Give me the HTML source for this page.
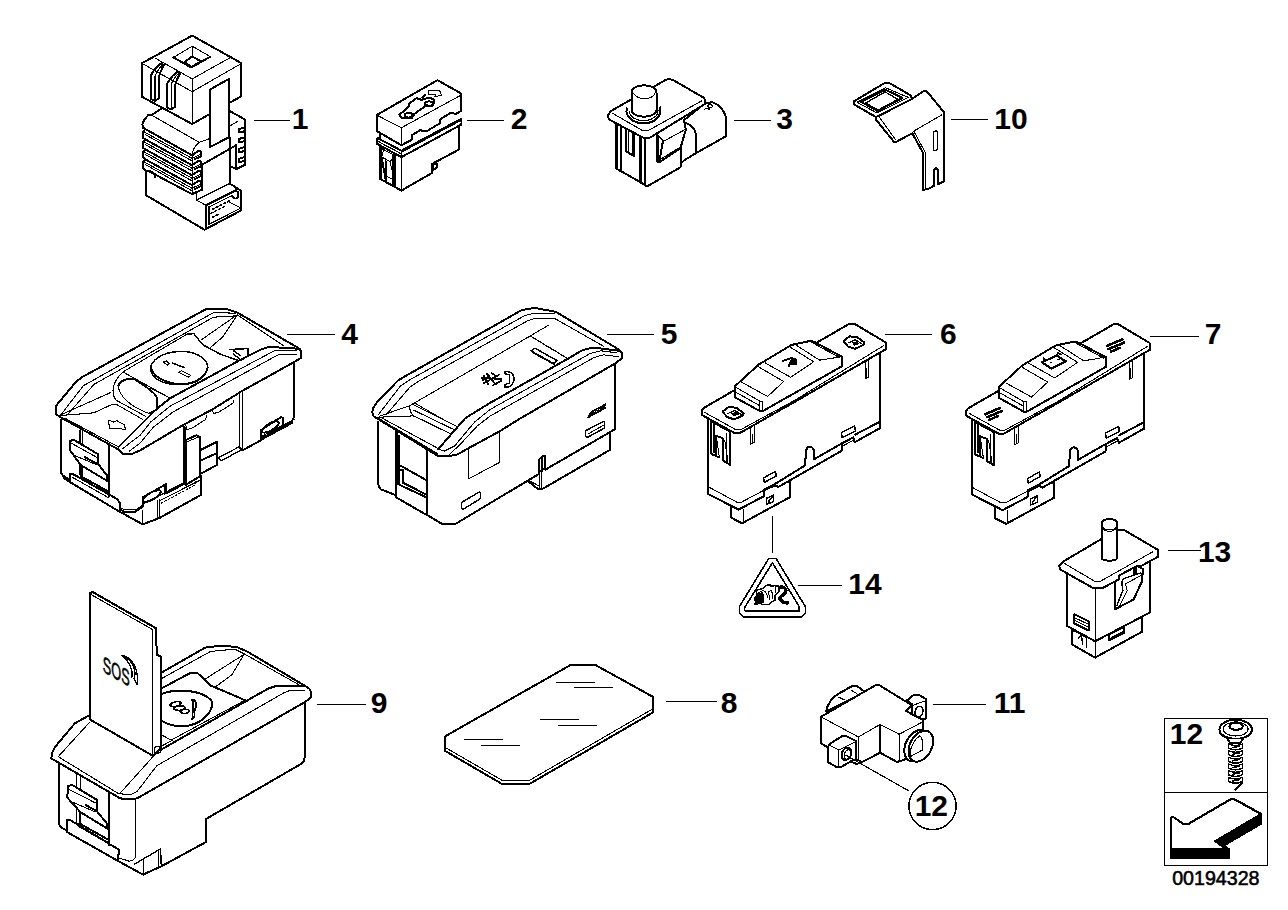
<!DOCTYPE html>
<html><head><meta charset="utf-8"><title>00194328</title>
<style>
html,body{margin:0;padding:0;background:#fff;}
body{width:1288px;height:910px;overflow:hidden;font-family:"Liberation Sans",sans-serif;}
svg{display:block;}
svg *{vector-effect:non-scaling-stroke;shape-rendering:crispEdges;}
.k{fill:none;stroke:#000;stroke-width:2;stroke-linejoin:round;stroke-linecap:round;}
.kf{fill:#fff;stroke:#000;stroke-width:2;stroke-linejoin:round;stroke-linecap:round;}
.m{fill:none;stroke:#000;stroke-width:1.45;stroke-linejoin:round;stroke-linecap:round;}
.mf{fill:#fff;stroke:#000;stroke-width:1.45;stroke-linejoin:round;stroke-linecap:round;}
.n{fill:none;stroke:#000;stroke-width:1.05;stroke-linejoin:round;stroke-linecap:round;}
.nf{fill:#fff;stroke:#000;stroke-width:1.05;stroke-linejoin:round;stroke-linecap:round;}
.b{fill:#000;stroke:none;}
.w{fill:#fff;stroke:none;}
.ld{fill:none;stroke:#000;stroke-width:1.15;}
text{font-family:"Liberation Sans",sans-serif;fill:#000;}
.num{font-weight:bold;font-size:27px;}
</style></head><body>
<svg width="1288" height="910" viewBox="0 0 1288 910">
<rect x="0" y="0" width="1288" height="910" fill="#fff"/>
<!-- 00_labels.svg -->
<g class="ld">
<path d="M254,120.5H290"/>
<path d="M467,120.5H504"/>
<path d="M734,120.5H771"/>
<path d="M951,119.5H988"/>
<path d="M286.5,334.5H335"/>
<path d="M606.5,334.5H654"/>
<path d="M885,334.5H932"/>
<path d="M1150,336.5H1198.5"/>
<path d="M1168,550.5H1201"/>
<path d="M798,585.5H842"/>
<path d="M772.5,516V553"/>
<path d="M316.5,704.5H365.5"/>
<path d="M665.5,701.5H716.5"/>
<path d="M933,704.5H985.5"/>
</g>
<circle cx="932.5" cy="806" r="23.6" class="k" style="stroke-width:1.5"/>
<rect x="1164.5" y="718.5" width="103" height="147" class="n" style="stroke-width:1.1"/>
<path d="M1164.5,792.5H1267.5" class="n" style="stroke-width:1.1"/>
<text class="num" style="font-size:30px" x="291.85" y="129">1</text>
<text class="num" style="font-size:30px" x="510.84" y="129">2</text>
<text class="num" style="font-size:30px" x="776.30" y="129">3</text>
<text class="num" style="font-size:30px" x="994.35" y="129">10</text>
<text class="num" style="font-size:30px" x="341.34" y="344">4</text>
<text class="num" style="font-size:30px" x="660.66" y="344">5</text>
<text class="num" style="font-size:30px" x="939.88" y="344">6</text>
<text class="num" style="font-size:30px" x="1204.69" y="344">7</text>
<text class="num" style="font-size:30px" x="1197.95" y="562">13</text>
<text class="num" style="font-size:30px" x="848.25" y="594">14</text>
<text class="num" style="font-size:30px" x="370.84" y="713">9</text>
<text class="num" style="font-size:30px" x="720.73" y="713">8</text>
<text class="num" style="font-size:30px" x="993.75" y="713">11</text>
<text class="num" style="font-size:30px" x="914.65" y="815.6">12</text>
<text class="num" style="font-size:30px" x="1169.85" y="743.8">12</text>
<text x="1172.13" y="885.05" style="font-size:19.65px;stroke:#000;stroke-width:0.55">00194328</text>

<!-- 01_part1.svg -->
<g transform="translate(120 100) scale(0.131988)">
<!-- body -->
<path class="w" d="M311,67 L247,110 L215,113 L195,136 L178,161 L170,186 L176,211 L190,222 L174,244 L174,285 L190,297 L174,320 L174,361 L190,373 L174,395 L174,436 L190,448 L174,471 L174,512 L200,543 L200,723 L640,983 L915,838 L915,688 L880,663 L830,633 L830,500 L880,525 L950,490 L950,150 L835,85 Z"/>
<path class="k" d="M311,67 L247,110 L215,113 L195,136 L178,161 L170,186 L176,211 L190,222 L174,244 L174,285 L190,297 L174,320 L174,361 L190,373 L174,395 L174,436 L190,448 L174,471 L174,512 L200,543 L200,723 L640,983 L915,838 L915,688 L880,663"/>
<!-- fin thick lines -->
<path class="k" d="M176,211 L546,419 M190,297.5 L546,494.5 M190,373 L546,570 M190,448.5 L546,645.5 M215,538 L546,713"/>
<path class="n" d="M180,240 L546,442 M192,262 L546,462 M180,316 L546,517.5 M192,338 L546,537.5 M180,391 L546,593 M192,413 L546,613 M180,467 L546,668.5 M192,489 L546,688.5"/>
<path class="n" d="M547,410 V713"/>
<!-- teeth right of fins -->
<path class="k" d="M546,419 L588,390 L611,390 L611,427 L566,449 M546,494.5 L588,465.5 L611,465.5 L611,502.5 L566,524.5 M546,570 L588,541 L611,541 L611,578 L566,600 M546,645.5 L588,616.5 L611,616.5 L611,653.5 L566,675.5"/>
<path class="n" d="M547,442 L611,412 M547,517 L611,487 M547,593 L611,563 M547,668 L611,638"/>
<!-- top face thin -->
<path class="n" d="M247,119 L601,321 C575,340 552,370 548,411 M601,321 L680,292"/>
<!-- right side -->
<path class="k" d="M625,678 L546,713 M625,488 V678 M625,488 L880,343 V518 M830,282 V633 M880,522 L838,503 M835,85 L950,150 V490 L880,525"/>
<path class="n" d="M835,195 L895,160"/>
<path class="k" d="M950,205 L903,220 V245 L940,238 M950,280 L903,295 V320 L940,313 M950,355 L903,370 V395 L940,388 M950,430 L903,445 V470 L940,463"/>
<!-- bottom left box -->
<path class="k" d="M200,543 L222,535 L265,561 V588"/>
<!-- connector -->
<path class="n" d="M580,692 V758 L830,633 M580,758 L650,798"/>
<path class="k" d="M650,798 L870,688 M830,633 L880,663 V690 M650,798 V978 M672,813 V943"/>
<path class="n" d="M672,813 L850,723 M672,943 L905,825 M825,773 L905,813"/>
<path class="k" d="M845,723 L870,748 L895,738 V693" style="stroke-width:1.6"/>
<path class="k" stroke-dasharray="2 2.2" style="stroke-width:1.6" d="M700,828 L830,763 M690,858 L800,803 M700,888 L745,866"/>
<!-- cap -->
<path class="kf" d="M547,-488 L165,-278 L165,-25 L547,182 L918,-28 L918,-280 Z"/>
<path class="n" d="M547,-160 V182 M170,-276 L547,-63 L912,-272 M265,-318 L547,-160 L830,-318"/>
<path class="n" d="M405,-323 L547,-408 L685,-328 M547,-408 V-330 M612,-293 L685,-328"/>
<path class="k" d="M405,-323 L540,-246 L685,-328 M547,-330 L488,-288 L543,-250 L612,-293 Z"/>
<!-- ribs -->
<path class="k" d="M297,-13 L262,7 L235,-8 V-188 C255,-225 285,-262 318,-280 M297,-13 V-183 C308,-215 322,-250 336,-268"/>
<path class="n" d="M265,7 V-183 C285,-225 305,-255 330,-272"/>
<path class="k" d="M419,52 L384,72 L357,57 V-123 C377,-160 407,-197 440,-215 M419,52 V-118 C430,-150 444,-185 458,-203"/>
<path class="n" d="M387,72 V-118 C407,-160 427,-190 452,-207"/>
<!-- label rect -->
<path class="kf" d="M680,-78 L825,-160 V282 L680,358 Z"/>

</g>
<!-- 02_part2.svg -->
<g transform="translate(365 72) scale(0.085737)">
<!-- lower body -->
<path class="w" d="M170,843 V1243 L425,1383 L780,1178 V1073 L1100,903 V600 L425,900 Z"/>
<path class="k" d="M170,843 V1243 L425,1383 L780,1178 V1073 L1100,903 V600"/>
<path class="k" d="M350,963 V1343 M790,1083 L835,1063 V1118 L790,1143 Z"/>
<path class="n" d="M425,993 V1383"/>
<!-- rocker on left face -->
<path class="k" d="M188,870 V1250 M240,1040 V1275 M195,1000 L240,1250 M195,880 L225,895 M330,960 V1330"/>
<path class="n" d="M195,990 L290,1045 L325,1015 M240,1210 L340,1262 M205,900 L340,970 M290,1045 L330,1200 M215,910 L195,990" />
<path class="n" stroke-dasharray="2 2" d="M318,985 V1200"/>
<!-- flange -->
<path class="kf" d="M135,783 L150,772 L425,918 L1125,545 V612 L425,993 L135,833 Z"/>
<path class="k" d="M150,808 L425,955 M425,935 L1110,570" style="stroke-width:1.2"/>
<path class="n" stroke-dasharray="1.2 1.6" d="M440,945 L1110,588" style="stroke-width:1.6;stroke:#fff"/>
<path class="n" d="M425,918 V993"/>
<!-- neck -->
<path class="k" d="M170,700 V778"/>
<!-- cap -->
<path class="kf" d="M845,95 L140,500 V690 L425,855 L545,790 V740 L640,680 L720,690 L870,600 L880,550 L1000,475 L1060,490 L1120,455 V250 Z"/>
<path class="n" d="M150,510 L425,650 L1105,278 M425,650 V855"/>
<!-- car icon -->
<path class="k" d="M400,500 L510,405 V375 L600,305 L660,325 L740,300 L800,315 L805,350 L790,395 L700,400 L575,490 L545,540 L435,540 Z M670,300 L700,265"/>
<ellipse class="kf" cx="510" cy="505" rx="45" ry="27"/>
<ellipse class="kf" cx="748" cy="368" rx="48" ry="25"/>
<path class="n" d="M740,215 L868,212 L895,272 L815,288 L822,262 L740,258 Z"/>

</g>
<!-- 03_part3.svg -->
<g transform="translate(600 72) scale(0.108696)">
<!-- right housing -->
<path class="kf" d="M975,282 L1040,280 Q1135,320 1160,420 V590 L880,748 L750,828 V460 Z"/>
<path class="k" d="M770,462 Q870,490 885,580 V745"/>
<path class="n" d="M985,310 l30,-15 l25,20 l-30,18 z M960,345 l25,-15 l20,18"/>
<!-- body -->
<path class="w" d="M144,440 V887 L191,911 L364,1010 L434,1052 L741,876 V832 L760,820 V430 Z"/>
<path class="k" d="M144,470 V887 L191,911 L364,1010 L434,1052 L741,876 V700"/>
<path class="n" d="M159,480 V893"/>
<path class="k" d="M191,490 V911 M364,597 V1010 M418,612 V1045"/>
<path class="n" d="M380,600 V1020"/>
<path class="k" d="M235,520 V728 L315,775 V565 M300,560 V765"/>
<path class="n" d="M265,535 V745"/>
<!-- rocker on right face -->
<path class="k" d="M520,570 V820 L545,832 L740,700 L790,530 L775,455 M520,570 L580,630 L545,832 M535,600 V810"/>
<path class="n" d="M595,632 L782,530 M560,800 L740,690"/>
<!-- plate -->
<path class="kf" d="M70,402 L100,360 L600,75 Q640,58 680,78 L960,240 L970,292 L450,610 L400,606 L85,438 Z"/>
<path class="n" d="M112,378 L385,535 Q420,548 460,530 L938,264"/>
<!-- button base ring -->
<path class="k" d="M248,335 C225,400 300,475 405,472 C500,470 570,410 552,325"/>
<path class="n" d="M268,360 C270,410 330,450 405,447 C480,445 535,405 535,350"/>
<!-- button -->
<path class="kf" d="M290,190 C290,100 520,100 520,190 V355 C500,430 310,430 290,355 Z"/>
<path class="n" d="M310,200 C350,260 470,260 505,200"/>

</g>
<!-- 04_part10.svg -->
<g transform="translate(845 75) scale(0.085737)">
<!-- vertical plate + tilted plate -->
<path class="kf" d="M780,280 L920,185 L950,185 L1155,435 V1239 L1084,1275 V1110 L1061,1080 L1038,1110 V1292 L970,1329 L910,1339 V910 L785,680 L600,778 L570,778 L360,520 L355,480 L770,262 Z"/>
<path class="n" d="M940,1329 V910 L805,660 M800,655 L1130,465 M375,455 L590,755 M425,472 L745,292"/>
<path class="kf" d="M1030,670 L1060,645 L1080,660 V860 L1060,882 L1030,880 Z" style="stroke-width:1.4"/>
<!-- ring -->
<path class="kf" d="M100,310 L460,95 L520,95 L770,240 L780,280 L360,490 L100,340 Z"/>
<path class="n" d="M140,318 L470,148 L740,262 L372,442 Z"/>
<path class="kf" d="M185,312 L470,170 L672,268 L380,420 Z"/>
<path class="k" d="M240,327 L468,197 L618,284 L388,408 Z" style="stroke-width:1.3"/>

</g>
<!-- 05_part4.svg -->
<g transform="translate(45 300) scale(0.131988)">
<!-- body fill -->
<path class="w" d="M125,880 V1315 L150,1355 L190,1380 L550,1595 L740,1700 L870,1650 L1185,1475 V1315 L1302,1250 V1190 L1472,1115 L1495,1140 L1647,1045 L1867,925 L1887,885 V440 Z"/>
<!-- left face -->
<path class="k" d="M125,905 V1315 L150,1355 L190,1380 L550,1595 L740,1700 L870,1650 L1185,1475 V1335"/>
<path class="k" d="M485,1105 V1485"/>
<path class="n" d="M265,985 V1325 M285,995 V1335"/>
<path class="kf" d="M190,1140 V1070 L215,1057 L405,1170 V1245 L470,1330 V1370 L270,1250 Z"/>
<path class="n" d="M200,1085 L392,1192 M225,1178 L395,1250"/>
<path class="k" d="M270,1250 V1335 M280,1340 L470,1445 M405,1245 L300,1190"/>
<path class="k" d="M190,1380 V1315 L205,1315 L550,1510 L565,1535 V1595 M135,1330 L185,1360"/>
<path class="n" d="M205,1342 L480,1497 M280,1350 C300,1345 330,1365 340,1385 M425,1440 C440,1435 455,1445 460,1455"/>
<!-- front face -->
<path class="k" d="M1050,955 V1395 M1887,470 V885 L1867,925 L1647,1045"/>
<path class="n" d="M1065,965 V1390"/>
<path class="kf" d="M1057,1065 L1147,1025 L1177,1040 V1335 L1067,1400 Z"/>
<path class="n" d="M1075,1075 L1170,1035 M1075,1075 V1390"/>
<path class="k" d="M1182,1135 L1302,1075 V1250 L1182,1315 M1182,1215 L1302,1160"/>
<path class="k" d="M1312,1195 L1472,1112 M1337,1217 L1477,1142 M1312,1195 L1337,1217" style="stroke-width:1.3"/>
<path class="n" d="M1472,700 V1115 M1495,700 V1140"/>
<path class="k" d="M1472,1115 L1495,1140 L1637,1062 V985 L1787,888 L1802,893 V938"/><path class="k" d="M1647,1030 L1887,905 M1637,1062 L1877,932" style="stroke-width:1.2"/>
<ellipse class="k" cx="1707" cy="962" rx="72" ry="26" transform="rotate(-30 1707 962)"/>
<path class="n" d="M1267,830 L1277,860 L1317,850 L1427,780 L1432,760 M1067,945 L1072,980 L1107,975 L1217,905 L1227,870"/>
<!-- front bottom -->
<path class="k" d="M565,1585 L600,1605 L680,1605 L740,1565 V1495 L900,1405 L920,1395 V1465 L1050,1395" />
<path class="n" d="M565,1565 Q585,1590 620,1590 H690 L740,1555 M740,1595 V1700 M850,1520 V1655 M870,1510 V1650 M905,1410 V1470"/>
<ellipse class="k" cx="810" cy="1485" rx="75" ry="26" transform="rotate(-30 810 1485)"/>
<path class="k" d="M745,1545 L1050,1385 M870,1520 L1177,1365" style="stroke-width:1.2"/>
<path class="n" d="M880,1540 L1140,1400 V1375" stroke-dasharray="2 2"/>
<!-- bezel -->
<path class="kf" d="M80,830 L85,800 L235,620 L280,585 L1222,68 L1377,68 L1457,95 L1922,365 L1937,385 V440 L1887,470 L1492,690 L1267,830 L1050,945 L720,1140 L660,1165 L590,1165 L560,1135 L120,890 L85,865 Z"/>
<path class="k" d="M1932,370 L1697,355 L1637,375 L1487,450 L947,745 L835,835 L560,1110"/>
<path class="n" d="M1907,380 L1737,385 L947,805 L800,925 L720,1025 L590,1125 M1907,410 L1767,415 L967,850 L820,965 L720,1085 L640,1145"/>
<path class="n" d="M120,870 L290,650 L1277,95 L1447,100 M170,870 L370,640 L1277,130 L1447,120 M1457,112 L1807,345 M1457,112 L1187,300 M1452,120 L1347,280 L1247,365"/>
<path class="m" d="M1077,258 L1127,255 L1197,340 L1327,410 L1470,460"/>
<path class="n" d="M1077,258 L590,545 L950,745 M120,870 L500,700 M120,875 L370,855 L510,790 L540,790 L740,905 M800,670 L950,745 M150,895 L560,1115"/>
<!-- oval button -->
<path class="n" d="M590,545 C520,610 490,700 540,760 L760,880 M555,650 C560,720 640,810 790,860"/>
<path class="k" d="M555,650 C570,610 620,590 680,600 C740,640 840,700 850,745 V830 L790,860"/>
<!-- round knob -->
<ellipse class="m" cx="1016" cy="515" rx="216" ry="125" transform="rotate(-3 1016 515)"/>
<path class="k" d="M805,520 C830,600 960,650 1080,635 C1160,625 1225,570 1232,510" />
<path class="n" d="M895,470 l25,-8 l22,18 l-12,14 z M1012,548 l22,-12 l70,35 l-18,14 z"/>
<path class="k" d="M968,478 L1055,512" style="stroke-width:1.5"/>
<!-- arrows -->
<path class="n" d="M480,910 L520,925 L545,915 L600,945 L610,980 L560,975 L490,975 Z"/>
<path class="m" d="M1402,375 L1537,368 V425 L1487,455 L1427,410 M1430,385 L1480,420"/>

</g>
<!-- 06_part5.svg -->
<g transform="translate(365 300) scale(0.131988)">
<!-- lower block -->
<path class="kf" d="M1227,1365 L1307,1430 L1347,1430 L1857,1135 V1000 L1322,1300 Z"/>
<path class="n" d="M1322,1315 V1430 M1335,1310 V1430 M1247,1372 L1318,1408"/>
<!-- body fill -->
<path class="w" d="M100,900 V1395 L120,1435 L225,1475 L235,1495 L470,1630 L590,1700 L680,1700 L1322,1315 V1205 L1347,1185 L1367,1185 V1285 L1892,980 V470 Z"/>
<path class="k" d="M100,925 V1395 Q105,1425 120,1435 L225,1475 M235,995 V1495 L470,1630 L490,1640 L590,1700 L680,1700 L1322,1315 V1205 L1347,1185 L1367,1185 V1285 L1892,980 V480"/>
<path class="n" d="M248,1000 V1390"/>
<path class="k" d="M470,1145 V1630 M1340,1195 V1300" />
<path class="k" d="M260,1250 L465,1365 M250,1395 L465,1495 M290,1385 L465,1475 M265,1285 H290 V1385 M260,1030 V1395"/>
<path class="n" d="M785,1135 V1355 L1020,1230 V1010"/>
<path class="k" d="M785,1135 V1355" style="stroke-width:1.2"/>
<path class="k" d="M730,1535 L865,1455 L875,1460 V1505 L745,1585 L730,1580 Z" style="stroke-width:1.5"/>
<path class="k" d="M1672,990 L1807,920 L1815,925 V970 L1687,1040 L1672,1035 Z" style="stroke-width:1.5"/>
<path class="n" d="M1690,1015 L1805,950"/>
<path class="k" d="M1690,890 l22,-40 M1712,878 l22,-40 M1734,866 l22,-40 M1756,854 l22,-40 M1778,842 l22,-40 M1800,830 l22,-40 M1690,890 L1822,818 M1712,850 L1822,790" style="stroke-width:1.5"/>
<!-- bezel -->
<path class="kf" d="M55,850 L60,820 L95,770 L250,610 L300,580 L1190,75 L1287,60 L1447,90 L1907,365 L1947,400 V440 L1897,480 L1157,909 L1020,995 L780,1125 L700,1170 L620,1185 L550,1180 L460,1125 L105,905 L65,880 Z"/>
<path class="k" d="M1932,385 L1727,360 L1647,380 L1537,445 L947,780 L760,895 L555,1130"/>
<path class="n" d="M1907,400 L1787,385 L1707,405 L947,830 L830,925 L680,1105 L600,1145 L555,1130 M1922,430 L1807,415 L1737,435 L947,880 L850,955 L720,1095 L640,1170"/>
<path class="n" d="M100,870 L270,650 L330,610 L1207,120 L1277,100 L1437,100 M160,870 L340,660 L400,620 L1227,160 L1287,140 L1437,140 L1807,350"/>
<path class="n" d="M375,780 L1247,275 L1392,190 M340,800 L375,780 L600,909 M340,800 Q335,850 370,880 M370,795 L700,960 M370,835 L680,985 M375,880 L650,1015 M100,888 L370,878 M110,880 L340,800 M130,895 L545,1120"/>
<path class="k" d="M1257,275 L1537,445" style="stroke-width:1.3" stroke-dasharray="1 1.2"/>
<path class="k" d="M110,905 L550,1170" style="stroke-width:2.2" stroke-dasharray="1 1"/>
<path class="m" d="M1257,385 L1287,365 L1457,460 L1427,480 Z"/>
<path class="m" d="M1270,395 L1440,490" style="stroke-width:2" stroke-dasharray="1 1"/>
<!-- symbol -->
<path class="k" stroke-dasharray="2 1" d="M885,590 L1035,600 M900,630 L1020,565 M925,560 L990,640 M890,610 L945,570 M970,645 L1035,612 M960,555 L1000,580 M900,575 L935,640" style="stroke-width:1.7"/>
<path class="m" d="M1058,545 C1110,535 1140,570 1125,620 C1115,650 1085,665 1058,660 L1060,640 L1095,630 L1095,565 L1060,560 Z"/>

</g>
<!-- 07_part6.svg -->
<g transform="translate(695 310) scale(0.131988)">
<defs>
<g id="sw67">
<!-- connector -->
<path class="kf" d="M275,1490 V1574 L357,1616 L720,1418 V1300 L600,1330 Z"/>
<path class="k" d="M365,1512 V1612" style="stroke-width:1.3"/>
<path class="m" d="M540,1427 L595,1402 V1452 L545,1472 Z M555,1455 L585,1415"/>
<!-- body -->
<path class="w" d="M95,800 V1392 L330,1512 L520,1412 V1362 L600,1322 L630,1342 L1110,1067 V1017 L1200,972 L1210,1002 L1403,894 V300 Z"/>
<path class="k" d="M95,822 V1392 L330,1512 L520,1412 V1362 L600,1322 L835,1177 L840,1067 Q845,1040 870,1035 Q895,1040 900,1062 V1132 L1110,1012 L1200,965 M600,1322 L630,1342 L1110,1067 V1017 M1200,972 L1210,1002 L1403,894 V320 M1214,944 L1403,845"/>
<path class="n" d="M105,1342 L320,1457 L350,1457 L520,1367 M535,1365 L600,1335 M1120,1030 L1195,990"/>
<path class="k" d="M520,1272 L610,1222 L615,1257 L525,1307 Z M1110,927 L1210,877 L1215,917 L1115,967 Z" style="stroke-width:1.4"/>
<path class="n" d="M420,882 V1017 L450,1002 V872 M435,940 V1005 M1289,385 V520 L1314,510 V380 M1300,440 V512"/>
<!-- left face switch -->
<path class="k" d="M125,832 V1092 L185,1117 M145,850 V1075 M130,847 L265,922 V1172 L215,1142 L210,972 L160,952 V1102"/>
<path class="n" d="M160,952 L185,1117 M225,985 L250,1150 M240,935 V1160"/>
<!-- plate -->
<path class="kf" d="M50,762 L70,740 L1169,105 L1209,105 L1444,245 L1449,295 L780,682 L340,932 L300,932 L55,797 Z"/>
<path class="n" d="M75,777 L310,907 L345,907 L760,682 L1429,270"/>
<!-- rocker -->
<path class="kf" d="M300,580 L480,415 L730,265 L870,235 L900,240 L1115,355 V425 L515,765 L490,765 L300,660 Z"/>
<path class="n" d="M1110,425 L520,765 M305,620 L490,725 M300,580 L490,690 L515,690 M490,690 V765 M515,690 V765"/>
<path class="n" d="M480,430 L672,542 L550,655 L355,548 M530,400 L725,510 L899,392 L719,280 M764,265 L944,380 L1044,365 L1110,350 M884,245 L1094,360"/>
</g>
<g id="lock67">
<path class="kf" d="M-71,-20 L-24,-55 L35,-49 L88,-8 L82,9 L17,39 L-36,21 Z" style="stroke-width:2"/>
<path class="k" d="M-30,-6 L20,-30 L70,2" style="stroke-width:1.3"/>
<path class="b" d="M-6,-8 L35,-20 L53,4 L11,15 Z"/>
</g>
</defs>
<use href="#sw67"/>
<use href="#lock67" transform="translate(280,790)"/>
<use href="#lock67" transform="translate(1195,255)"/>
<path class="k" d="M665,385 L735,362 M738,365 L710,428 M735,372 L768,375 L768,412 L728,408" style="stroke-width:2"/><path class="b" d="M735,375 L765,378 V410 L735,405 Z"/>

</g>
<!-- 08_part7.svg -->
<g transform="translate(959 310.6) scale(0.131988)">
<use href="#sw67"/>
<!-- battery icon on rocker -->
<path class="kf" d="M630,392 L738,340 L810,385 L702,440 Z" style="stroke-width:2.2"/>
<path class="k" d="M648,380 L642,360 M742,336 L748,320 L772,333" style="stroke-width:1.8"/>
<path class="b" d="M688,395 l12,-6 l10,7 l-12,6z M745,370 l12,-6 l10,7 l-12,6z"/>
<!-- texts -->
<path class="k" stroke-dasharray="2.4 1.2" d="M200,785 L310,738 M213,808 L323,762 M228,828 L300,797" style="stroke-width:2.6"/>
<path class="k" stroke-dasharray="2.4 1.2" d="M1120,268 L1245,215 M1133,292 L1250,243 M1150,312 L1225,280" style="stroke-width:2.6"/>

</g>
<!-- 09_part13.svg -->
<g transform="translate(1050 510) scale(0.108696)">
<!-- lower block -->
<path class="kf" d="M205,1103 V1238 L415,1358 L850,1118 V983 L415,1200 Z"/>
<path class="k" d="M260,1178 L290,1148 L335,1173 V1263 M290,1155 L300,1235" style="stroke-width:1.4"/>
<!-- body -->
<path class="kf" d="M160,590 V1068 L415,1208 L920,943 V470 Z"/>
<path class="n" d="M415,720 V1358"/>
<path class="k" d="M225,958 L355,1023 V1108 L225,1043 Z M545,1143 L685,1073 V1128 L545,1198 Z"/>
<path class="n" d="M235,995 L350,1050 M235,1020 L350,1075"/>
<path class="k" d="M565,1175 L675,1120" style="stroke-width:1.8" stroke-dasharray="1 1"/>
<!-- rocker on right face -->
<path class="k" d="M600,640 V913 L770,823 L850,648 L845,590 M630,605 L780,525 L800,515 L860,545 L855,590 M770,540 V590 M790,535 V580"/>
<path class="k" d="M660,660 L680,630 L830,580 M660,660 L670,740 L615,880" style="stroke-width:1.4"/>
<path class="n" d="M695,680 L710,745 L635,890 M695,680 L830,605"/>
<!-- plate -->
<path class="kf" d="M85,510 L120,475 L620,180 L675,180 L990,365 L995,430 L830,520 L800,515 L640,600 L630,640 L480,720 L400,720 L90,545 Z"/>
<path class="n" d="M130,490 L410,655 L465,655 L945,385"/>
<!-- pin -->
<path class="kf" d="M475,125 C475,70 620,70 620,125 V440 C610,475 485,475 475,440 Z"/>
<path class="n" d="M482,150 C500,195 595,195 613,150 M490,170 C510,205 585,205 605,170"/>

</g>
<!-- 10_part14.svg -->
<g transform="translate(725 545) scale(0.078003)">
<path class="kf" d="M560,175 L655,175 L1030,790 V870 L975,925 L240,925 L185,870 V790 Z" style="stroke-width:1.6"/>
<path class="k" d="M608,228 L952,790 V847 L265,847 L250,832 V805 Z" style="stroke-width:1.6"/>
<path class="b" d="M365,690 L400,640 L395,600 L430,615 L480,605 L500,640 L495,740 L455,745 L400,775 L360,760 L385,735 Z"/>
<path class="k" d="M400,600 L420,575 L480,560 L545,510 L575,510 L590,530 L640,520 L665,530 L690,525 V600 L640,650 V710 L600,730 L555,765 L480,765 L455,745" style="stroke-width:1.5"/>
<path class="n" d="M430,610 L490,585 L520,600 L550,670 M560,600 L600,580 L610,690 M560,600 L570,700 M650,540 V610"/>
<path d="M705,540 C765,525 800,575 765,620 L705,672 V700 L760,740 L815,743" fill="none" stroke="#000" stroke-width="3.4" stroke-linejoin="round"/>

</g>
<!-- 11_part9.svg -->
<g transform="translate(40 585) scale(0.151633)">
<!-- body -->
<path class="w" d="M125,1150 V1557 L135,1597 L175,1617 L180,1630 L515,1820 L680,1910 L800,1855 L1095,1695 V1543 L1725,1178 L1745,1148 V760 Z"/>
<path class="k" d="M125,1177 V1557 Q125,1590 140,1600 L175,1617 M455,1377 V1717 M175,1550 L180,1630 L515,1820 L520,1745 L460,1710 M175,1550 L195,1548 L455,1705"/>
<path class="k" d="M515,1820 L680,1910 L800,1855 L1095,1695 V1543 L1725,1178 Q1745,1165 1745,1140 V773"/>
<path class="n" d="M240,1247 V1577 M265,1260 V1577 M630,1415 V1790 Q625,1815 590,1822 L520,1800 M685,1810 V1905 M780,1745 V1850 M250,1590 L450,1705"/>
<path class="k" d="M625,1840 L795,1740 L800,1855" style="stroke-width:1.4"/>
<path class="kf" d="M180,1402 L185,1327 L210,1317 L375,1417 V1492 L445,1577 V1607 L265,1497 Z"/>
<path class="n" d="M190,1347 L365,1437 M215,1432 L365,1497"/>
<path class="k" d="M265,1497 V1577 M260,1572 L445,1677 M375,1492 L300,1450"/>
<!-- bezel -->
<path class="kf" d="M75,1142 L80,1107 L100,1067 L230,912 L330,857 L800,578 L1090,413 L1185,401 L1295,408 L1365,438 L1745,663 L1775,683 L1785,703 V743 L1745,773 L1286,1037 L650,1402 L620,1412 L550,1412 L520,1402 L115,1167 L80,1147 Z"/>
<path class="k" d="M1775,683 L1745,663 L1565,663 L1505,683 L1355,768 L800,1085"/>
<path class="n" d="M1355,758 L865,1023 M1745,698 L1655,693 L1605,713 L770,1192 L640,1362 L600,1382 L520,1377 L120,1132 L330,902 M745,1132 L525,1377"/>
<path class="n" d="M800,618 L1125,438 L1285,423 L1345,453 L1725,668 M1345,458 L1085,623 M1345,458 L1265,593 L1155,673 M800,988 L865,1023 M800,1063 L875,1023"/>
<path class="k" d="M800,683 L995,578 L1035,578 L1075,613 L1125,663 L1315,743 L1365,768"/>
<!-- ellipse button -->
<path class="k" d="M800,720 C900,680 1060,690 1130,760 C1150,820 1090,900 990,925 C920,940 850,925 800,895"/>
<path class="k" style="stroke-width:1.7" d="M855,795 C870,770 910,760 930,775 C925,800 885,810 855,795 Z M880,815 C900,795 940,790 955,805 C950,830 905,835 880,815 Z M925,835 C940,815 975,815 985,830 C975,850 940,855 925,835 Z"/>
<path class="k" style="stroke-width:1.7" d="M1000,760 C1030,740 1035,800 1020,830 M1005,835 C1030,840 1020,880 1000,885 M1010,770 L1005,880"/>
<!-- flap -->
<path class="kf" d="M330,55 L345,45 L765,285 L770,460 L795,470 V1075 L745,1127 L330,887 Z"/>
<path class="n" d="M340,65 L745,295 V1127"/>
<circle class="n" cx="775" cy="1087" r="22"/>
<!-- SOS -->
<g transform="translate(414,570) matrix(1,0.58,0,1,0,0) scale(0.56,1)"><text font-size="150" x="0" y="0" style="font-weight:normal;stroke:#000;stroke-width:0.5px">SOS</text></g>
<path class="m" d="M540,465 C610,470 655,570 640,655 M565,480 C610,500 635,560 622,615 M540,465 C590,500 615,570 605,610 M640,655 L620,615"/>

</g>
<!-- 12_part8.svg -->
<g transform="translate(420 640) scale(0.263975)">
<path class="kf" d="M95,365 L570,95 L665,95 L882,215 V275 L415,545 L310,545 L95,420 Z"/>
<path class="n" d="M97,408 L312,532 L414,532 L880,262"/>
<path class="n" style="stroke-width:1" d="M515,160 H662 M585,180 H730 M455,300 H600 M523,323 H668 M167,377 H313 M232,399 H378"/>

</g>
<!-- 13_part11.svg -->
<g transform="translate(810 675) scale(0.108696)">
<!-- top-left bump -->
<path class="kf" d="M150,335 L160,290 L200,220 L250,180 L390,100 L430,100 L490,145 L500,160 Z"/>
<path class="n" d="M265,205 L320,230 M380,142 L432,170"/>
<!-- right lug -->
<path class="kf" d="M895,230 L960,180 L1000,180 L1070,225 V400 L1040,410 L880,330 L940,285 Z"/>
<path class="k" d="M940,270 V350"/>
<path class="n" d="M905,240 L950,278 L1060,238"/>
<ellipse class="m" cx="1002" cy="340" rx="36" ry="54" transform="rotate(18 1002 340)"/>
<!-- main body -->
<path class="kf" d="M100,385 L610,90 L640,95 L940,280 L880,330 L1035,410 V520 L870,780 L800,800 L645,715 L480,800 L165,665 L100,630 Z"/>
<path class="n" d="M110,390 L445,570 L645,455 L820,545 L1030,435 M445,570 V780 M820,545 V800"/>
<path class="k" d="M645,455 V715" style="stroke-width:1.3"/>
<!-- knob -->
<ellipse class="kf" cx="985" cy="650" rx="105" ry="155" transform="rotate(28 985 650)" style="stroke-width:2"/>
<ellipse class="kf" cx="1020" cy="655" rx="100" ry="152" transform="rotate(28 1020 655)"/>
<path class="n" d="M1010,560 C950,600 910,690 925,760 M1020,565 C1040,610 1045,650 1035,690 L925,750"/>
<!-- left lug -->
<path class="kf" d="M165,665 L180,635 L300,560 L330,560 L420,605 V775 L375,795 L280,850 L250,850 L170,805 Z"/>
<path class="k" d="M375,795 L430,820 L480,800"/>
<path class="n" d="M185,650 L265,690 L415,615 M265,690 V850"/>
<ellipse class="k" cx="335" cy="725" rx="42" ry="60" transform="rotate(25 335 725)"/>
<ellipse class="n" cx="345" cy="730" rx="28" ry="45" transform="rotate(25 345 730)"/>

</g>
<!-- 14_box.svg -->
<g transform="translate(1160 712) scale(0.088993)">
<!-- screw -->
<path class="kf" d="M668,215 C690,330 1010,330 1032,215 Z"/>
<ellipse class="kf" cx="850" cy="195" rx="182" ry="108"/>
<ellipse class="n" cx="850" cy="192" rx="140" ry="78"/>
<ellipse class="kf" cx="855" cy="160" rx="75" ry="40" style="stroke-width:2.2"/>
<path class="b" d="M815,75 H890 V100 L870,112 H835 L815,100 Z"/>
<path class="kf" d="M758,300 L790,350 H900 L932,300"/>
<g class="kf" style="stroke-width:1.5">
<path d="M770,360 V405 Q850,445 925,405 V360 Q850,395 770,360 Z"/>
<path d="M770,435 V480 Q850,520 925,480 V435 Q850,470 770,435 Z"/>
<path d="M770,510 V555 Q850,595 925,555 V510 Q850,545 770,510 Z"/>
<path d="M770,585 V630 Q850,670 925,630 V585 Q850,620 770,585 Z"/>
<path d="M770,660 V705 Q850,745 925,705 V660 Q850,695 770,660 Z"/>
<path d="M770,735 V780 Q850,820 925,780 V735 Q850,770 770,735 Z"/>
</g>
<path class="m" d="M815,400 L890,385 M815,475 L890,460 M815,550 L890,535 M815,625 L890,610 M815,700 L890,685 M815,775 L890,760"/>
<path class="k" d="M925,790 L850,870" style="stroke-width:2.2"/>
<!-- arrow (y offset 75*11.24=843) -->
<g transform="translate(0,843)">
<path class="b" d="M112,335 L150,325 L272,407 L308,407 L788,126 L842,126 L1147,293 V420 L735,660 L787,690 V807 H112 Z"/>
<path class="w" d="M136,352 L150,350 L265,432 L315,432 L800,148 L830,148 L1112,305 L600,607 L705,685 H136 Z"/>
</g>

</g>
<!-- 99_overlay.svg -->
<path class="ld" d="M845.5,755L909,791"/>

</svg>
</body></html>
